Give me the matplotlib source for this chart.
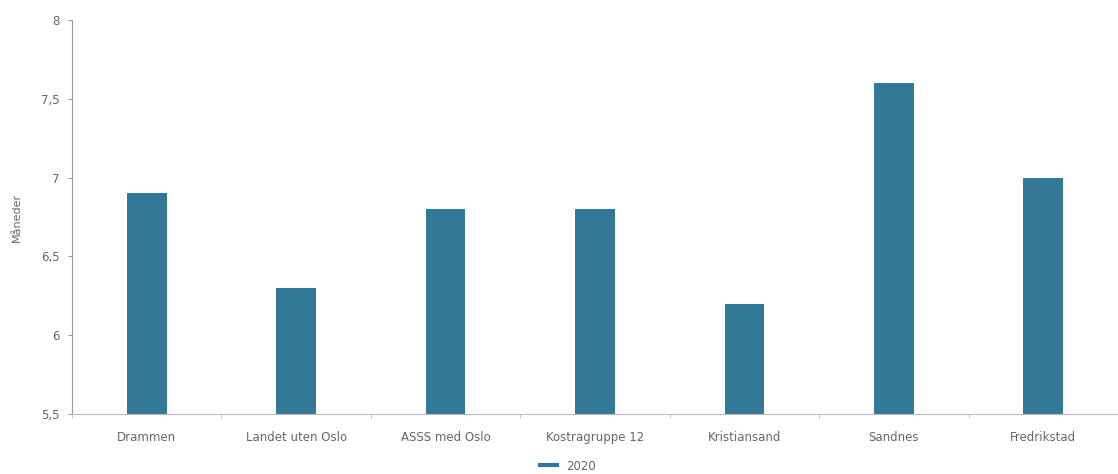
import matplotlib.pyplot as plt
from matplotlib.lines import Line2D

categories = ["Drammen", "Landet uten Oslo", "ASSS med Oslo", "Kostragruppe 12",
              "Kristiansand", "Sandnes", "Fredrikstad"]
values_2020 = [6.9, 6.3, 6.8, 6.8, 6.2, 7.6, 7.0]
yticks = [5.5, 6, 6.5, 7, 7.5, 8]
ytick_labels = ["5,5", "6", "6,5", "7", "7,5", "8"]

BAR = "#337896"
GREY = "#666666"

fig = plt.figure(figsize=(11.18, 4.74), dpi=100)
ax = fig.add_axes([72 / 1118, 60 / 474, 1 - 72 / 1118, 394 / 474])

x = range(len(categories))
ax.bar(list(x), values_2020, width=0.265, color=BAR, zorder=2)
ax.set_ylim(5.5, 8)
ax.set_xlim(-0.493, 6.43)
ax.set_yticks(yticks)
ax.set_yticklabels(ytick_labels)
ax.set_xticks(list(x))
ax.set_xticklabels(categories)
ax.set_xticks([i + 0.5 for i in range(-1, len(categories))], minor=True)
ax.tick_params(axis="x", which="major", length=0, pad=12, labelsize=8.5, labelcolor=GREY)
ax.tick_params(axis="x", which="minor", length=3, color="#bbbbbb")
ax.tick_params(axis="y", length=3, color="#999999", labelsize=8.5, labelcolor=GREY, pad=6)
for side in ("top", "right"):
    ax.spines[side].set_visible(False)
ax.spines["left"].set_color("#999999")
ax.spines["bottom"].set_color("#bbbbbb")
ax.set_ylabel("Måneder", fontsize=8, color=GREY, labelpad=14)

handle = Line2D([0], [0], color=BAR, linewidth=3)
fig.legend([handle], ["2020"], loc="center", bbox_to_anchor=(568 / 1118, 8 / 474),
           frameon=False, fontsize=8.5, labelcolor=GREY, handlelength=1.4)

fig.savefig("out.png", dpi=100)
